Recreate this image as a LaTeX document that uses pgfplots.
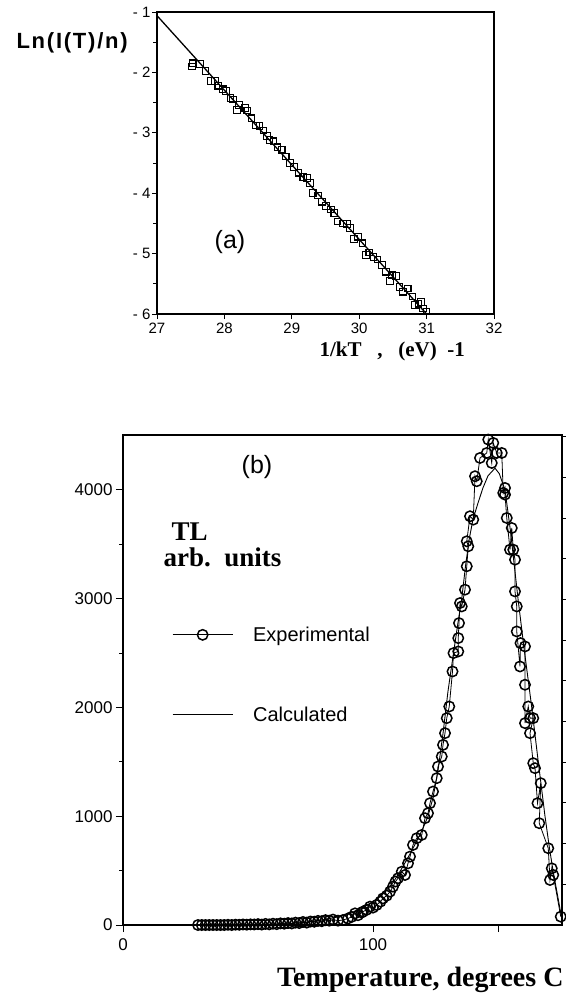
\documentclass[border=0pt]{standalone}
\usepackage{fontspec}
\setmainfont{Liberation Sans}
\newfontfamily\tms{Liberation Serif}
\usepackage{pgfplots}
\pgfplotsset{compat=1.18}
\begin{document}
\begin{tikzpicture}[x=1pt,y=1pt]
\path[use as bounding box] (0,0) rectangle (565,-993);

% ---------------- panel (a)
\begin{axis}[
  at={(157pt,-314pt)}, anchor=south west, scale only axis,
  width=337pt, height=302pt,
  xmin=27, xmax=32, ymin=-6, ymax=-1,
  xtick={27,...,32},
  ytick={-6,...,-1}, yticklabels={- 6,- 5,- 4,- 3,- 2,- 1},
  minor ytick={-5.5,-4.5,-3.5,-2.5,-1.5},
  xtick pos=bottom, ytick pos=left,
  tick align=outside, major tick length=5pt, minor tick length=4pt,
  every tick/.style={black, line width=1pt},
  axis line style={line width=1.3pt},
  tick label style={font=\fontsize{15}{17}\selectfont},
  yticklabel style={xshift=2pt},
  /pgf/number format/assume math mode=true,
  clip=false,
]
\addplot[black, line width=1.3pt] coordinates {(27,-1.06) (31,-6.0)};
\addplot[only marks, mark=square, mark size=3.3pt, mark options={black, line width=1.1pt}] coordinates {
(27.52,-1.90) (27.53,-1.85) (27.64,-1.86) (27.72,-1.98) (27.80,-2.14) (27.86,-2.14)
(27.91,-2.22) (27.98,-2.28) (28.02,-2.31) (28.09,-2.42) (28.13,-2.45) (28.19,-2.62)
(28.22,-2.54) (28.31,-2.59) (28.34,-2.63) (28.40,-2.76) (28.47,-2.88) (28.52,-2.89)
(28.58,-2.96) (28.63,-3.05) (28.67,-3.12) (28.73,-3.14) (28.79,-3.24) (28.85,-3.28)
(28.91,-3.39) (28.97,-3.50) (29.03,-3.57) (29.10,-3.66) (29.17,-3.73) (29.23,-3.75)
(29.27,-3.83) (29.31,-4.00) (29.39,-4.04) (29.45,-4.14) (29.51,-4.21) (29.58,-4.27)
(29.63,-4.33) (29.68,-4.47) (29.76,-4.50) (29.82,-4.51) (29.86,-4.58) (29.92,-4.76)
(29.98,-4.72) (30.05,-4.83) (30.10,-5.02) (30.15,-4.98) (30.21,-5.06) (30.27,-5.10)
(30.34,-5.19) (30.40,-5.30) (30.46,-5.45) (30.49,-5.36) (30.55,-5.37) (30.60,-5.55)
(30.65,-5.63) (30.72,-5.58) (30.79,-5.71) (30.83,-5.85) (30.88,-5.83) (30.92,-5.80)
(30.95,-5.91) (31.00,-5.96)
};
\end{axis}
\node[anchor=west, font=\fontsize{22}{24}\selectfont\bfseries\addfontfeature{LetterSpace=8}] at (13,-43) {Ln(I(T)/n)};
\node[font=\fontsize{25}{27}\selectfont] at (230,-242) {(a)};
\node[anchor=west, font=\tms\fontsize{21}{24}\selectfont\bfseries] at (316,-351) {1/kT\ \ \ ,\ \ \ (eV)\ \ -1};

% ---------------- panel (b)
\begin{axis}[
  at={(123pt,-925pt)}, anchor=south west, scale only axis,
  width=439pt, height=490pt,
  xmin=0, xmax=175.6, ymin=0, ymax=4505,
  xtick={0,100,150}, xticklabels={0,100,{}},
  ytick={0,1000,...,4000}, minor ytick={500,1500,2500,3500},
  xtick pos=bottom, ytick pos=left,
  tick align=outside, major tick length=7pt, minor tick length=4pt,
  every tick/.style={black, line width=1pt},
  axis line style={line width=1.3pt},
  tick label style={font=\fontsize{17}{19}\selectfont},
  xticklabel style={yshift=-3pt},
  scaled y ticks=false,
  /pgf/number format/assume math mode=true,
  /pgf/number format/set thousands separator={},
  legend style={at={(axis cs:19.6,2300)}, anchor=west, draw=none, fill=none,
    inner sep=0pt, row sep=60pt, column sep=18pt, font=\fontsize{20}{22}\selectfont,
    nodes={inner sep=2pt}},
  legend cell align=left,
  legend image code/.code={\draw[mark repeat=2, mark phase=2, #1] plot coordinates {(0pt,0pt) (30pt,0pt) (60pt,0pt)};},
  clip=false,
]
\addplot[black, line width=0.8pt, mark=o, mark size=5.2pt, mark options={black, line width=1.5pt, solid}] coordinates {
(30,0) (31.5,0) (33,0) (34.5,0) (36,0) (37.5,0) (39,0) (40.5,0) (42,2) (43.5,0)
(45,3) (46.5,2) (48,5) (49.5,3) (51,6) (52.5,5) (54,8) (55.5,4) (57,10) (58.5,6)
(60,12) (61.5,8) (63,15) (64.5,12) (66,18) (67.5,14) (69,22) (70.5,18) (72,28) (73.5,22)
(75,32) (76.5,30) (78,38) (79.5,35) (81,45) (82.5,40) (84,50)
(86,40) (88,46) (90,60) (91.5,75) (92.8,107) (94,90) (95.5,115) (96,123) (97.5,140)
(98.8,169) (100,160) (101.5,184) (103,215) (104,245) (105.5,270) (106.8,307) (108,353)
(109,400) (110,430) (111.5,490) (112.8,460) (114,567) (114.8,629) (116,736) (117.5,798)
(119.5,828) (120.8,982) (122,1028) (122.8,1120) (124,1227) (125.5,1350) (126,1457)
(127.5,1549) (128,1656) (128.8,1764) (129.5,1902) (130.5,2009) (131.8,2331) (132.2,2500)
(134.1,2515) (134.1,2638) (134.4,2776) (134.8,2960) (135.5,2929) (136.8,3083) (137.5,3298)
(138.1,3482) (137.5,3528) (138.8,3758) (140.1,3727) (140.8,4126) (141.5,4080) (142.8,4294)
(145.5,4340) (146.1,4463) (147.5,4248) (148.1,4432) (149.5,4340) (151.5,4340) (152.1,3972)
(152.8,4018) (152.8,3957) (153.5,3742) (154.8,3451) (155.5,3650) (156.1,3451) (156.8,3359)
(156.8,3067) (157.5,2929) (157.5,2699) (158.8,2377) (159,2592) (160.8,2561) (160.8,2209)
(160.8,1856) (162.1,2009) (162.8,1902) (164.1,1902) (162.8,1764) (164.1,1488) (164.8,1442)
(165.8,1120) (167.1,1304) (166.5,936) (170.1,706) (170.8,414) (171.5,521) (172.1,460)
(175.1,77)
};
\addlegendentry{Experimental}
\addplot[black, line width=0.9pt] coordinates {
(30,0) (40,1) (50,3) (60,7) (65,10) (70,18) (75,30) (80,48) (85,70) (90,98) (95,145)
(100,215) (105,310) (108,390) (111,500) (114,620) (117,750) (120,890) (122,1000)
(124,1170) (126,1420) (128,1760) (130,2150) (132.2,2500) (134,2780) (135.5,3000)
(137,3300) (138.5,3550) (140,3730) (142,3880) (144,4020) (146,4130) (148.8,4200)
(150.5,4150) (152.8,4000) (155,3620) (158,3000) (160.5,2530) (163.5,2000) (166,1520)
(168.8,1000) (170.5,720) (172,500) (174,250) (175.5,60)
};
\addlegendentry{Calculated}
\end{axis}
% right-hand unlabelled tick scale
\begin{axis}[
  at={(123pt,-925pt)}, anchor=south west, scale only axis,
  width=439pt, height=490pt,
  xmin=0, xmax=1, ymin=0, ymax=12.04,
  hide x axis, axis y line*=right,
  ytick={1,...,12}, yticklabels={},
  tick align=outside, major tick length=5pt,
  every tick/.style={black, line width=1pt},
  axis line style={line width=1.3pt},
]
\addplot[draw=none] coordinates {(0,0)};
\end{axis}
\node[font=\fontsize{25}{27}\selectfont] at (257,-467) {(b)};
\node[anchor=base west, font=\tms\fontsize{27}{29}\selectfont\bfseries] at (168,-540) {TL};
\node[anchor=base west, font=\tms\fontsize{27}{29}\selectfont\bfseries] at (160,-566) {arb.\ \ units};
\node[anchor=east, font=\tms\fontsize{28}{31}\selectfont\bfseries] at (567,-980) {Temperature,\ degrees\ C};
\end{tikzpicture}
\end{document}
